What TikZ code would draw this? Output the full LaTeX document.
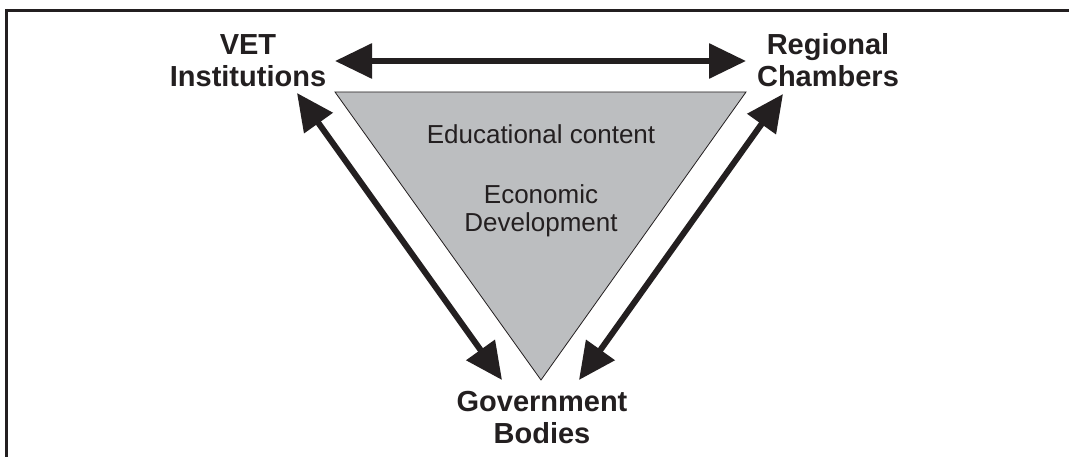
\documentclass[tikz,border=0pt]{standalone}
\usepackage{fontspec}
\setmainfont{Liberation Sans}
\usetikzlibrary{arrows.meta}
\definecolor{ink}{HTML}{231F20}
\definecolor{wedge}{HTML}{BCBEC0}
\begin{document}
\begin{tikzpicture}[x=1pt,y=-1pt,
  actor/.style={font=\bfseries\fontsize{29}{32}\selectfont, text=ink, align=center, inner sep=0pt, anchor=base},
  topic/.style={font=\fontsize{26}{28}\selectfont, text=ink, align=center, inner sep=0pt, anchor=base},
  link/.style={line width=6pt, draw=ink, {Triangle[length=37pt,width=34pt]}-{Triangle[length=37pt,width=34pt]}}]
  \useasboundingbox (0,0) rectangle (1069,457);
  % frame: top and left rules
  \draw[line width=3pt, ink] (5,10.5) -- (1069,10.5);
  \draw[line width=3pt, ink] (6.5,9) -- (6.5,457);
  % central wedge
  \coordinate (wl) at (335,92);
  \coordinate (wr) at (746,92);
  \coordinate (wb) at (541,380);
  \filldraw[fill=wedge, draw=ink, line width=0.8pt] (wl) -- (wr) -- (wb) -- cycle;
  % labels (base anchor sits on the last line)
  \node[actor] (vet) at (248,87) {VET\\Institutions};
  \node[actor] (reg) at (828,87) {Regional\\Chambers};
  \node[actor] (gov) at (542,443) {Government\\Bodies};
  \node[topic] (edu) at (541,144) {Educational content};
  \node[topic] (eco) at (541,232) {Economic\\Development};
  % arrow ends
  \coordinate (vetE) at (335,61);
  \coordinate (regW) at (746,61);
  \coordinate (vetS) at (297,93);
  \coordinate (govW) at (502,380);
  \coordinate (regS) at (783,94);
  \coordinate (govE) at (579,380);
  \draw[link] (vetE) -- (regW);
  \draw[link] (vetS) -- (govW);
  \draw[link] (regS) -- (govE);
\end{tikzpicture}
\end{document}
